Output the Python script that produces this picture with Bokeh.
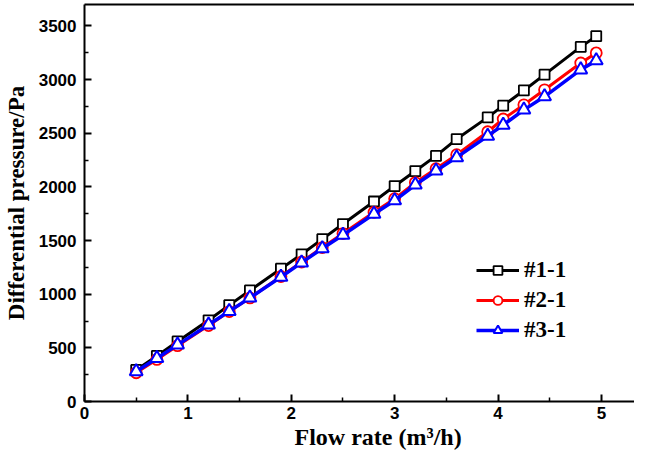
from bokeh.plotting import figure
from bokeh.models import Legend, LegendItem, Range1d, FixedTicker, LinearAxis, Title
from bokeh.embed import file_html
from bokeh.resources import INLINE

flow = [0.5, 0.7, 0.9, 1.2, 1.4, 1.6, 1.9, 2.1, 2.3, 2.5, 2.8, 3.0, 3.2, 3.4, 3.6,
        3.9, 4.05, 4.25, 4.45, 4.8, 4.95]
dp_11 = [294, 425, 560, 757, 898, 1035, 1238, 1372, 1513, 1654, 1864, 2008, 2148, 2289,
         2446, 2648, 2758, 2899, 3046, 3305, 3405]
dp_21 = [268, 392, 520, 708, 838, 965, 1165, 1300, 1435, 1565, 1764, 1890, 2040, 2170,
         2300, 2514, 2633, 2765, 2905, 3155, 3249]
dp_31 = [279, 403, 528, 716, 841, 966, 1160, 1294, 1426, 1551, 1748, 1873, 2020, 2150,
         2275, 2475, 2577, 2718, 2842, 3093, 3177]
series_names = ["#1-1", "#2-1", "#3-1"]
x_ticks = [0, 1, 2, 3, 4, 5]
y_ticks = [0, 500, 1000, 1500, 2000, 2500, 3000, 3500]

p = figure(width=634, height=454, output_backend="svg", toolbar_location=None,
           x_range=Range1d(0, 5.32), y_range=Range1d(0, 3700),
           min_border_left=82, min_border_right=0, min_border_top=4, min_border_bottom=53)
p.grid.visible = False
p.outline_line_color = None
p.background_fill_color = "white"
p.border_fill_color = "white"

bottom_axis = p.below[0]
left_axis = p.left[0]

for ax in (bottom_axis, left_axis):
    ax.axis_line_width = 2
    ax.major_tick_in = 7
    ax.major_tick_out = 0
    ax.minor_tick_in = 4
    ax.minor_tick_out = 0
    ax.major_tick_line_width = 2
    ax.minor_tick_line_width = 1.5
    ax.major_label_text_font = "Liberation Sans"
    ax.major_label_text_font_style = "bold"
    ax.major_label_text_font_size = "17px"
    ax.major_label_text_color = "black"

bottom_axis.major_label_standoff = 5
left_axis.major_label_standoff = 8
bottom_axis.ticker = FixedTicker(ticks=x_ticks, minor_ticks=[0.5, 1.5, 2.5, 3.5, 4.5])
left_axis.ticker = FixedTicker(ticks=y_ticks, minor_ticks=[250, 750, 1250, 1750, 2250, 2750, 3250])
left_axis.axis_label = "Differential pressure/Pa"
left_axis.axis_label_text_font = "Liberation Serif"
left_axis.axis_label_text_font_style = "bold"
left_axis.axis_label_text_font_size = "23px"
left_axis.axis_label_text_color = "black"
left_axis.axis_label_standoff = 7

top_axis = LinearAxis(ticker=FixedTicker(ticks=[]), axis_line_width=2,
                      major_tick_in=0, major_tick_out=0, minor_tick_in=0, minor_tick_out=0,
                      major_label_standoff=0, major_label_text_font_size="0px")
p.add_layout(top_axis, "above")

xt = Title(text="Flow rate (m³/h)", align="left", offset=210, standoff=0,
           text_font="Liberation Serif", text_font_style="bold", text_font_size="24px",
           text_color="black")
p.add_layout(xt, "below")

l1 = p.line(flow, dp_11, line_color="black", line_width=3)
s1 = p.scatter(flow, dp_11, marker="square", size=10, fill_color="white",
               line_color="black", line_width=1.8)
l2 = p.line(flow, dp_21, line_color="red", line_width=3)
s2 = p.scatter(flow, dp_21, marker="circle", size=11, fill_color="white",
               line_color="red", line_width=1.8)
l3 = p.line(flow, dp_31, line_color="blue", line_width=3.5)
s3 = p.scatter(flow, dp_31, marker="triangle", size=13, fill_color="white",
               line_color="blue", line_width=2)

legend = Legend(items=[
    LegendItem(label=series_names[0], renderers=[l1, s1]),
    LegendItem(label=series_names[1], renderers=[l2, s2]),
    LegendItem(label=series_names[2], renderers=[l3, s3]),
], location=(392, 58))
legend.border_line_color = None
legend.background_fill_alpha = 0
legend.padding = 0
legend.margin = 0
legend.spacing = 4
legend.glyph_width = 43
legend.glyph_height = 22
legend.label_height = 22
legend.label_standoff = 5
legend.label_text_font = "Liberation Serif"
legend.label_text_font_style = "bold"
legend.label_text_font_size = "23px"
legend.label_text_color = "black"
p.add_layout(legend, "center")

open("out.html", "w").write(file_html(p, INLINE))
